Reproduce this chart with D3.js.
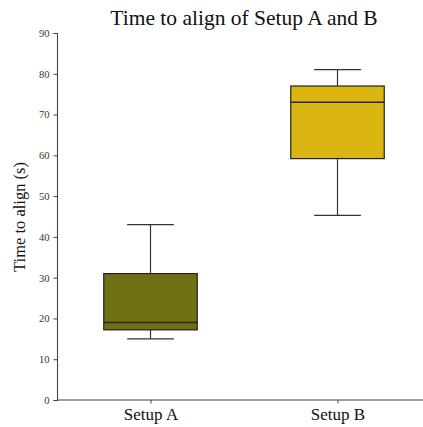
<!DOCTYPE html>
<html lang="en">
<head>
<meta charset="utf-8">
<title>Time to align</title>
<script src="https://cdn.jsdelivr.net/npm/d3@7"></script>
<style>
  body { margin: 0; background: white; }
  svg text { font-family: "Liberation Serif", "DejaVu Serif", serif !important; }
</style>
</head>
<body>
<script>
// data
var setups = ["Setup A", "Setup B"];
var whiskerLow = [15, 45.3];
var q1 = [17.2, 59.2];
var median = [19, 73];
var q3 = [31, 77];
var whiskerHigh = [43, 81];
var colors = ["#707013", "#dbb512"];
var yTicks = [0, 10, 20, 30, 40, 50, 60, 70, 80, 90];

var width = 423, height = 427;
var svg = d3.select("body").append("svg")
  .attr("width", width)
  .attr("height", height);

var x = d3.scalePoint().domain(setups).range([150.5, 337.5]);
var step = x.step();
var y = d3.scaleLinear().domain([0, 90]).range([400, 33]);

var boxes = setups.map(function(s, i) {
  return { name: s, lo: whiskerLow[i], q1: q1[i], med: median[i], q3: q3[i], hi: whiskerHigh[i], color: colors[i] };
});

// title
svg.append("text")
  .attr("x", 244).attr("y", 25)
  .attr("text-anchor", "middle")
  .style("font-size", "21.5px")
  .attr("fill", "#111")
  .text("Time to align of Setup A and B");

// y axis label
svg.append("text")
  .attr("transform", "translate(25,217) rotate(-90)")
  .attr("text-anchor", "middle")
  .style("font-size", "16.5px")
  .attr("fill", "#111")
  .text("Time to align (s)");

// y axis
var yAxis = svg.append("g")
  .attr("transform", "translate(57,0)")
  .call(d3.axisLeft(y).tickValues(yTicks).tickSize(3.5).tickPadding(4));
yAxis.select(".domain").attr("stroke", "#444").attr("stroke-width", 1.1);
yAxis.selectAll(".tick line").attr("stroke", "#444");
yAxis.selectAll(".tick text").style("font-size", "10.5px").attr("fill", "#333");

// x axis
var xAxis = svg.append("g")
  .attr("transform", "translate(0,400)")
  .call(d3.axisBottom(x).tickSize(3.5).tickPadding(4).tickSizeOuter(0));
xAxis.select(".domain").attr("d", "M57,0H431").attr("stroke", "#444").attr("stroke-width", 1.1);
xAxis.selectAll(".tick line").attr("stroke", "#444");
xAxis.selectAll(".tick text").style("font-size", "17px").attr("fill", "#111");

var boxW = step * 0.5;
var capW = boxW * 0.5;

var g = svg.selectAll(".box")
  .data(boxes)
  .enter().append("g")
  .attr("class", "box");

// whiskers
g.append("line")
  .attr("x1", function(d) { return x(d.name); })
  .attr("x2", function(d) { return x(d.name); })
  .attr("y1", function(d) { return y(d.hi); })
  .attr("y2", function(d) { return y(d.q3); })
  .attr("stroke", "#333").attr("stroke-width", 1.2);
g.append("line")
  .attr("x1", function(d) { return x(d.name); })
  .attr("x2", function(d) { return x(d.name); })
  .attr("y1", function(d) { return y(d.q1); })
  .attr("y2", function(d) { return y(d.lo); })
  .attr("stroke", "#333").attr("stroke-width", 1.2);
// caps
g.append("line")
  .attr("x1", function(d) { return x(d.name) - capW / 2; })
  .attr("x2", function(d) { return x(d.name) + capW / 2; })
  .attr("y1", function(d) { return y(d.hi); })
  .attr("y2", function(d) { return y(d.hi); })
  .attr("stroke", "#333").attr("stroke-width", 1.2);
g.append("line")
  .attr("x1", function(d) { return x(d.name) - capW / 2; })
  .attr("x2", function(d) { return x(d.name) + capW / 2; })
  .attr("y1", function(d) { return y(d.lo); })
  .attr("y2", function(d) { return y(d.lo); })
  .attr("stroke", "#333").attr("stroke-width", 1.2);

// boxes
g.append("rect")
  .attr("x", function(d) { return x(d.name) - boxW / 2; })
  .attr("y", function(d) { return y(d.q3); })
  .attr("width", boxW)
  .attr("height", function(d) { return y(d.q1) - y(d.q3); })
  .attr("fill", function(d) { return d.color; })
  .attr("stroke", "#222").attr("stroke-width", 1.2);

// medians
g.append("line")
  .attr("x1", function(d) { return x(d.name) - boxW / 2; })
  .attr("x2", function(d) { return x(d.name) + boxW / 2; })
  .attr("y1", function(d) { return y(d.med); })
  .attr("y2", function(d) { return y(d.med); })
  .attr("stroke", "#2a2a10").attr("stroke-width", 1.4);
</script>
</body>
</html>
